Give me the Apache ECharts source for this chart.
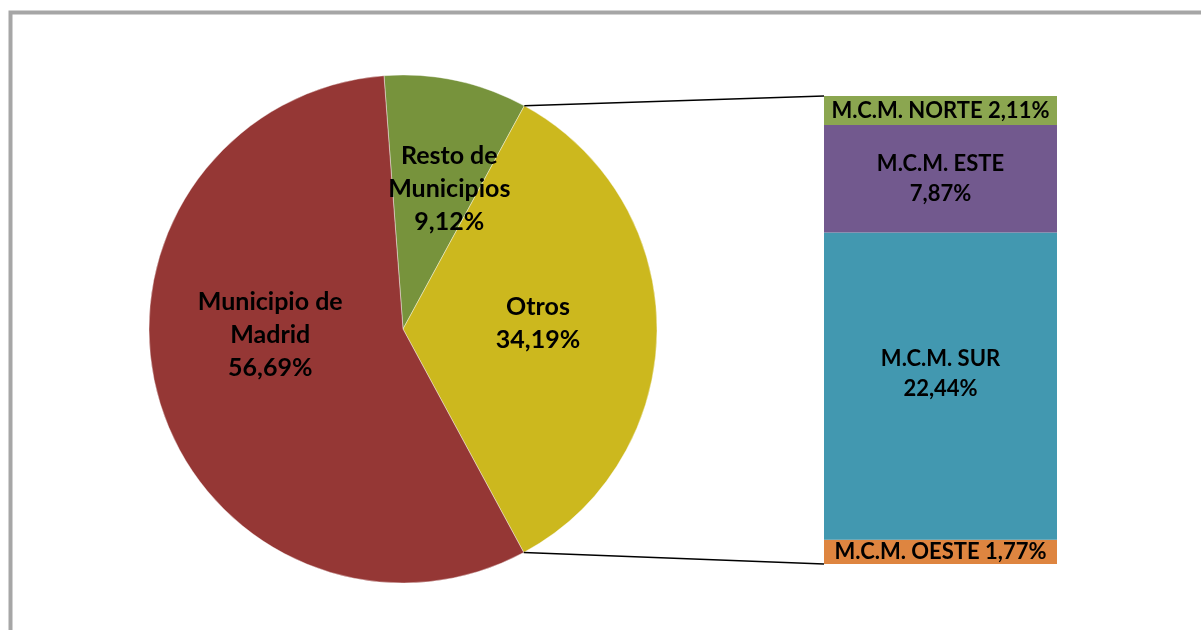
<!DOCTYPE html>
<html>
<head>
<meta charset="utf-8">
<script src="https://cdn.jsdelivr.net/npm/echarts@6/dist/echarts.min.js"></script>
<style>
  html, body { margin: 0; padding: 0; background: #fff; }
  #main { width: 1201px; height: 630px; }
</style>
</head>
<body>
<div id="main"></div>
<script>
// pie: main split
var pieNames = ['Resto de\nMunicipios', 'Otros', 'Municipio de\nMadrid'];
var pieValues = [9.12, 34.19, 56.69];
var pieColors = ['#77933C', '#CCB81E', '#953735'];
// label nudges (Excel places labels a bit differently)
var pieLabelShift = [[19, -13], [5, -6], [-8, -31]];

// bar: breakdown of "Otros", bottom to top
var barNames = ['M.C.M. OESTE', 'M.C.M. SUR', 'M.C.M. ESTE', 'M.C.M. NORTE'];
var barValues = [1.77, 22.44, 7.87, 2.11];
var barColors = ['#DE8540', '#4298B0', '#72598E', '#8BA650'];

var pieCenter = [403, 329], pieRadius = 254, startAngle = 94.3;
var barBox = { left: 824, top: 96, width: 233, height: 468 };
var otrosIdx = 1;
var FONT = 'Lato';

function fmt(v) { return v.toFixed(2).replace('.', ','); }

var chart = echarts.init(document.getElementById('main'));

var barTotal = barValues.reduce(function (a, b) { return a + b; }, 0);

var series = [{
    type: 'pie',
    center: pieCenter,
    radius: pieRadius,
    startAngle: startAngle,
    clockwise: true,
    animation: false,
    silent: true,
    itemStyle: { borderColor: 'rgba(255,255,255,0.5)', borderWidth: 0.8 },
    label: {
        position: 'inside',
        color: '#000',
        fontFamily: FONT,
        fontWeight: 'bold',
        fontSize: 25,
        lineHeight: 33,
        formatter: function (p) { return p.name + '\n' + fmt(p.value) + '%'; }
    },
    labelLayout: function (p) {
        var s = pieLabelShift[p.dataIndex];
        return { dx: s[0], dy: s[1] };
    },
    data: pieNames.map(function (n, i) {
        return { name: n, value: pieValues[i], itemStyle: { color: pieColors[i] } };
    })
}];

barNames.forEach(function (n, i) {
    series.push({
        type: 'bar',
        stack: 'otros',
        name: n,
        barWidth: '100%',
        animation: false,
        silent: true,
        itemStyle: { color: barColors[i] },
        label: {
            show: true,
            position: 'inside',
            color: '#000',
            fontFamily: FONT,
            fontWeight: 'bold',
            fontSize: 22,
            lineHeight: 30,
            offset: barValues[i] > 20 ? [0, -12] : [0, 0],
            formatter: function (p) {
                var v = fmt(p.value) + '%';
                return p.value < 5 ? n + ' ' + v : n + '\n' + v;
            }
        },
        data: [barValues[i]]
    });
});

// connector lines from the "Otros" slice edges to the bar corners
var total = pieValues.reduce(function (a, b) { return a + b; }, 0);
var before = 0;
for (var i = 0; i < otrosIdx; i++) before += pieValues[i];
function piePoint(frac) {
    var a = (startAngle - frac * 360) * Math.PI / 180;
    return [pieCenter[0] + pieRadius * Math.cos(a), pieCenter[1] - pieRadius * Math.sin(a)];
}
var pTop = piePoint(before / total);
var pBot = piePoint((before + pieValues[otrosIdx]) / total);

chart.setOption({
    backgroundColor: '#fff',
    grid: { left: barBox.left, top: barBox.top, width: barBox.width, height: barBox.height },
    xAxis: { type: 'category', data: ['Otros'], show: false },
    yAxis: { type: 'value', min: 0, max: barTotal, show: false },
    graphic: [
        {
            type: 'rect', silent: true,
            shape: { x: 10.5, y: 12.5, width: 1300, height: 800 },
            style: { fill: 'none', stroke: '#A6A6A6', lineWidth: 4 }
        },
        {
            type: 'line', silent: true, z: 10,
            shape: { x1: pTop[0], y1: pTop[1], x2: barBox.left, y2: barBox.top },
            style: { stroke: '#000', lineWidth: 1.5 }
        },
        {
            type: 'line', silent: true, z: 10,
            shape: { x1: pBot[0], y1: pBot[1], x2: barBox.left, y2: barBox.top + barBox.height },
            style: { stroke: '#000', lineWidth: 1.5 }
        }
    ],
    series: series
});
</script>
</body>
</html>
